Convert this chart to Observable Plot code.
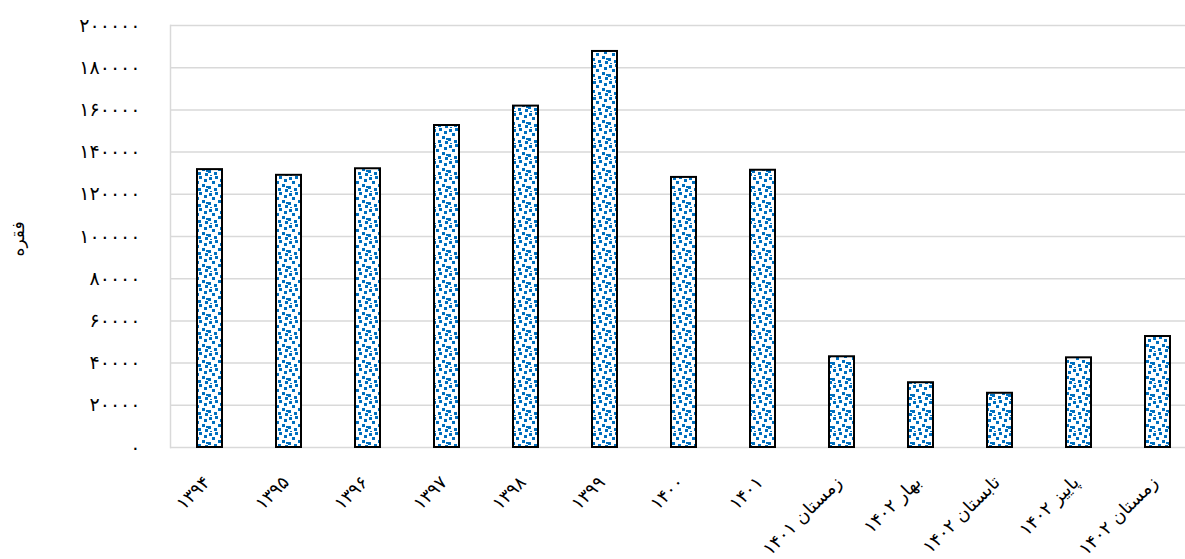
<!DOCTYPE html>
<html>
<head>
<meta charset="utf-8">
<script src="https://cdn.jsdelivr.net/npm/d3@7"></script>
<script src="https://cdn.jsdelivr.net/npm/@observablehq/plot@0.6"></script>
<style>
  html, body { margin: 0; padding: 0; background: #fff; overflow: hidden; }
  #chart svg { display: block; }
</style>
</head>
<body>
<div id="chart"></div>
<script>
const categories = ["۱۳۹۴","۱۳۹۵","۱۳۹۶","۱۳۹۷","۱۳۹۸","۱۳۹۹","۱۴۰۰","۱۴۰۱","زمستان ۱۴۰۱","بهار ۱۴۰۲","تابستان ۱۴۰۲","پاییز ۱۴۰۲","زمستان ۱۴۰۲"];
const values = [131700, 129000, 132100, 152600, 161800, 187700, 128000, 131400, 43000, 30700, 25700, 42500, 52600];
const yTicks = [0, 20000, 40000, 60000, 80000, 100000, 120000, 140000, 160000, 180000, 200000];
const yLabel = "فقره";

const fa = n => String(n).replace(/\d/g, d => "۰۱۲۳۴۵۶۷۸۹"[d]);
const data = categories.map((c, i) => ({category: c, value: values[i]}));

const grid = "#d9d9d9";
const chart = Plot.plot({
  width: 1185,
  height: 559,
  marginTop: 25,
  marginBottom: 112,
  marginLeft: 170,
  marginRight: -12,
  style: {fontFamily: "'DejaVu Sans', sans-serif", fontSize: "18px", color: "#000", background: "#fff"},
  x: {domain: categories, paddingInner: 0.68, paddingOuter: 0.34, align: 0.5, axis: null},
  y: {domain: [0, 200000], axis: null},
  marks: [
    Plot.ruleY(yTicks, {stroke: grid, strokeWidth: 1.5}),
    Plot.frame({anchor: "left", stroke: grid, strokeWidth: 1.5}),
    Plot.barY(data, {x: "category", y: "value", fill: "url(#dots)", stroke: "#000", strokeWidth: 2}),
    Plot.axisY({ticks: yTicks, tickFormat: fa, tickSize: 0, tickPadding: 30, fontSize: 19, label: null}),
    Plot.text(data, {x: "category", text: "category", frameAnchor: "bottom", dy: 36, dx: 1, rotate: -45, textAnchor: "end", fontSize: 18, fill: "#000"}),
    Plot.text([yLabel], {frameAnchor: "left", dx: -152, dy: 20, rotate: -90, text: d => d, fontSize: 17, fill: "#000"})
  ]
});

const svg = d3.select(chart);
const defs = svg.insert("defs", ":first-child");
const pat = defs.append("pattern")
  .attr("id", "dots").attr("patternUnits", "userSpaceOnUse")
  .attr("width", 16).attr("height", 16);
pat.append("rect").attr("width", 16).attr("height", 16).attr("fill", "#fff");
const sq = [[1,1,3],[7,0,3],[12,3,3],[4,5,3],[10,8,3],[0,10,3],[6,12,3],[13,13,3],[2,15,2],[14,10,2]];
sq.forEach(([x, y, s]) => pat.append("rect").attr("x", x).attr("y", y).attr("width", s).attr("height", s).attr("fill", "#0070c0"));

document.getElementById("chart").appendChild(chart);
</script>
</body>
</html>
